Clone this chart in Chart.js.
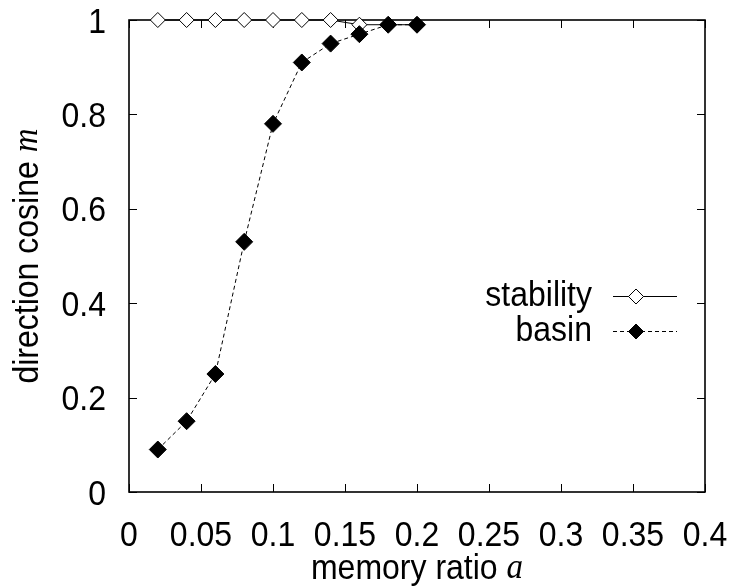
<!DOCTYPE html>
<html>
<head>
<title>direction cosine vs memory ratio</title>
<script src="https://cdn.jsdelivr.net/npm/chart.js"></script>
<style>
    body { margin: 0; background: #fff; }
    #wrap { width: 730px; height: 588px; }
</style>
</head>
<body>
<div id="wrap"><canvas id="chart"></canvas></div>
<script>
    // data
    const ratios = [0.02, 0.04, 0.06, 0.08, 0.10, 0.12, 0.14, 0.16, 0.18, 0.20];
    const stability = [1, 1, 1, 1, 1, 1, 1, 0.99, 0.99, 0.99];
    const basin = [0.09, 0.15, 0.25, 0.53, 0.78, 0.91, 0.95, 0.97, 0.99, 0.99];
    const xTicks = [0, 0.05, 0.1, 0.15, 0.2, 0.25, 0.3, 0.35, 0.4];
    const yTicks = [0, 0.2, 0.4, 0.6, 0.8, 1];
    const xTitle = ['memory ratio ', 'a'];
    const yTitle = ['direction cosine ', 'm'];

    const SANS = '"Liberation Sans", Arial, sans-serif';
    const SERIF = '"Liberation Serif", "Times New Roman", serif';
    const STRETCH = 1.08; // the original lettering is a little taller than wide

    const toPoints = ys => ys.map((y, i) => ({ x: ratios[i], y: y }));

    function tallText(ctx, txt, x, y) {
        ctx.save();
        ctx.translate(x, y);
        ctx.scale(1, STRETCH);
        ctx.fillText(txt, 0, 0);
        ctx.restore();
    }

    // draw a title made of a plain part and an italic serif symbol
    function mixedText(ctx, parts, cx, cy) {
        ctx.textBaseline = 'middle';
        ctx.textAlign = 'left';
        ctx.font = '32px ' + SANS;
        const w1 = ctx.measureText(parts[0]).width;
        ctx.font = 'italic 33px ' + SERIF;
        const w2 = ctx.measureText(parts[1]).width;
        const x0 = cx - (w1 + w2) / 2;
        ctx.font = '32px ' + SANS;
        tallText(ctx, parts[0], x0, cy);
        ctx.font = 'italic 33px ' + SERIF;
        tallText(ctx, parts[1], x0 + w1, cy);
    }

    // frame, inward ticks on all sides, tick labels
    const framePlugin = {
        id: 'frame',
        beforeDatasetsDraw(chart) {
            const ctx = chart.ctx;
            const a = chart.chartArea;
            const xs = chart.scales.x, ys = chart.scales.y;
            ctx.save();
            ctx.strokeStyle = '#000';
            ctx.fillStyle = '#000';
            ctx.lineWidth = 1;
            ctx.beginPath();
            xTicks.forEach(v => {
                const px = Math.round(xs.getPixelForValue(v)) + 0.5;
                ctx.moveTo(px, a.bottom); ctx.lineTo(px, a.bottom - 8);
                ctx.moveTo(px, a.top); ctx.lineTo(px, a.top + 8);
            });
            yTicks.forEach(v => {
                const py = Math.round(ys.getPixelForValue(v)) + 0.5;
                ctx.moveTo(a.left, py); ctx.lineTo(a.left + 8, py);
                ctx.moveTo(a.right, py); ctx.lineTo(a.right - 8, py);
            });
            ctx.stroke();
            ctx.lineWidth = 1.6;
            ctx.strokeRect(a.left, a.top, a.right - a.left, a.bottom - a.top);

            ctx.font = '32px ' + SANS;
            ctx.textBaseline = 'middle';
            ctx.textAlign = 'center';
            xTicks.forEach(v => tallText(ctx, String(v), xs.getPixelForValue(v), a.bottom + 44));
            ctx.textAlign = 'right';
            yTicks.forEach(v => tallText(ctx, String(v), a.left - 23, ys.getPixelForValue(v) + 3));
            ctx.restore();
        },
        afterDraw(chart) {
            const ctx = chart.ctx;
            const a = chart.chartArea;
            ctx.save();
            ctx.fillStyle = '#000';
            ctx.strokeStyle = '#000';

            // axis titles
            mixedText(ctx, xTitle, (a.left + a.right) / 2, 569);
            ctx.save();
            ctx.translate(28, (a.top + a.bottom) / 2);
            ctx.rotate(-Math.PI / 2);
            mixedText(ctx, yTitle, 0, 0);
            ctx.restore();

            // legend: label, sample line, marker
            chart.data.datasets.forEach((ds, i) => {
                const y = 296 + i * 35;
                ctx.font = '32px ' + SANS;
                ctx.textAlign = 'right';
                ctx.textBaseline = 'middle';
                ctx.fillStyle = '#000';
                tallText(ctx, ds.label, 592, y);
                ctx.lineWidth = 1;
                ctx.setLineDash(ds.borderDash || []);
                ctx.beginPath();
                ctx.moveTo(613, y + 0.5);
                ctx.lineTo(677, y + 0.5);
                ctx.stroke();
                ctx.setLineDash([]);
                ctx.fillStyle = ds.pointBackgroundColor;
                Chart.helpers.drawPoint(ctx, { pointStyle: 'rectRot', radius: 7.5, rotation: 0, borderWidth: 1 }, 636, y + 0.5);
                ctx.fill();
                ctx.stroke();
            });
            ctx.restore();
        }
    };

    new Chart(document.getElementById('chart'), {
        type: 'scatter',
        data: {
            datasets: [
                {
                    label: 'stability',
                    data: toPoints(stability),
                    showLine: true,
                    clip: false,
                    borderColor: '#000',
                    borderWidth: 1,
                    pointStyle: 'rectRot',
                    pointRadius: 7.5,
                    pointBackgroundColor: '#fff',
                    pointBorderColor: '#000',
                    pointBorderWidth: 1,
                    order: 2
                },
                {
                    label: 'basin',
                    data: toPoints(basin),
                    showLine: true,
                    clip: false,
                    borderColor: '#000',
                    borderWidth: 1,
                    borderDash: [4, 3],
                    pointStyle: 'rectRot',
                    pointRadius: 8.5,
                    pointBackgroundColor: '#000',
                    pointBorderColor: '#000',
                    pointBorderWidth: 1,
                    order: 1
                }
            ]
        },
        options: {
            responsive: true,
            maintainAspectRatio: false,
            animation: false,
            layout: { padding: { top: 20, right: 25, left: 0, bottom: 0 } },
            plugins: {
                legend: { display: false },
                tooltip: { enabled: false }
            },
            scales: {
                x: {
                    type: 'linear',
                    min: 0,
                    max: 0.4,
                    afterFit: s => { s.height = 96; },
                    grid: { display: false, drawTicks: false },
                    border: { display: false },
                    ticks: { display: false }
                },
                y: {
                    type: 'linear',
                    min: 0,
                    max: 1,
                    afterFit: s => { s.width = 129; },
                    grid: { display: false, drawTicks: false },
                    border: { display: false },
                    ticks: { display: false }
                }
            }
        },
        plugins: [framePlugin]
    });
</script>
</body>
</html>
